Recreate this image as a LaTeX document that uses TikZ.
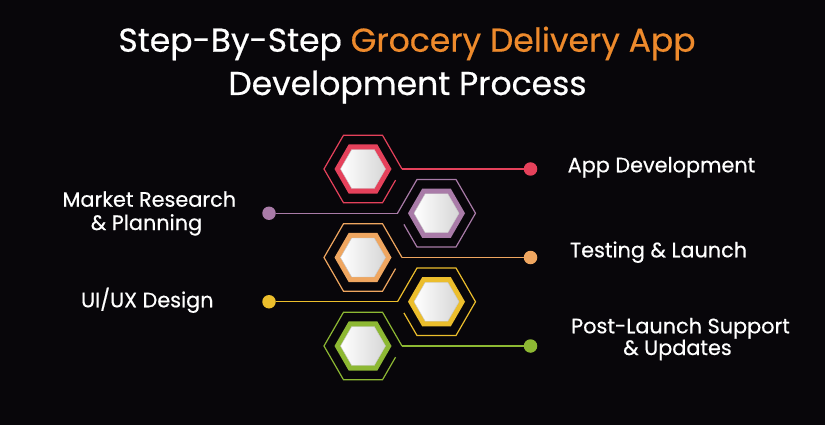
\documentclass[tikz,border=0pt]{standalone}
\usepackage{fontspec}
\setmainfont{Poppins}
\newfontfamily\popmed{Poppins}[FakeBold=0.5]
\usetikzlibrary{shapes.geometric,calc}
\definecolor{bg}{HTML}{08060A}
\definecolor{tOrange}{HTML}{EE8A2C}
\definecolor{cRed}{HTML}{E5415B}
\definecolor{cPurple}{HTML}{A97BA8}
\definecolor{cOrange}{HTML}{EFA660}
\definecolor{cYellow}{HTML}{ECBE2C}
\definecolor{cGreen}{HTML}{8DB833}
\begin{document}
\begin{tikzpicture}[x=1pt,y=-1pt,
  outerhex/.style={regular polygon, regular polygon sides=6, minimum size=78pt, inner sep=0pt, outer sep=0pt},
  ringhex/.style={regular polygon, regular polygon sides=6, minimum size=57pt, inner sep=0pt, outer sep=0pt, fill=#1},
  corehex/.style={regular polygon, regular polygon sides=6, minimum size=45pt, inner sep=0pt, outer sep=0pt, left color=white, right color=black!16, draw=black!22, line width=0.4pt},
  hexline/.style={draw=#1, line width=1.2pt, line join=miter},
  dot/.style={circle, fill=#1, minimum size=13.5pt, inner sep=0pt, outer sep=0pt},
  link/.style={draw=#1, line width=1.4pt},
  title/.style={text=white, font=\popmed\fontsize{33}{38}\selectfont, anchor=base},
  label/.style={text=white, font=\popmed\fontsize{20.8}{24}\selectfont, anchor=base}
]
% background
\fill[bg] (0,0) rectangle (825,425);
\useasboundingbox (0,0) rectangle (825,425);

% title
\node[title] (t1) at (407,51.7) {Step-By-Step {\color{tOrange}Grocery Delivery App}};
\node[title] (t2) at (407.5,95) {Development Process};

% hexagon frames (invisible anchors)
\node[outerhex] (o1) at (363,169) {};
\node[outerhex] (o2) at (436.5,213.25) {};
\node[outerhex] (o3) at (363,257.5) {};
\node[outerhex] (o4) at (436.5,301.75) {};
\node[outerhex] (o5) at (363,346) {};

% dots
\node[dot=cRed] (d1) at (530.5,169) {};
\node[dot=cPurple] (d2) at (269,213.25) {};
\node[dot=cOrange] (d3) at (530.5,257.5) {};
\node[dot=cYellow] (d4) at (269,301.75) {};
\node[dot=cGreen] (d5) at (530.5,346) {};

% broken outer outlines
\draw[hexline=cRed] ($(o1.0)!0.33!(o1.300)$) -- (o1.300) -- (o1.240) -- (o1.180) -- (o1.120) -- (o1.60) -- (o1.0);
\draw[hexline=cPurple] ($(o2.180)!0.33!(o2.240)$) -- (o2.240) -- (o2.300) -- (o2.0) -- (o2.60) -- (o2.120) -- (o2.180);
\draw[hexline=cOrange] ($(o3.0)!0.33!(o3.300)$) -- (o3.300) -- (o3.240) -- (o3.180) -- (o3.120) -- (o3.60) -- (o3.0);
\draw[hexline=cYellow] ($(o4.180)!0.33!(o4.240)$) -- (o4.240) -- (o4.300) -- (o4.0) -- (o4.60) -- (o4.120) -- (o4.180);
\draw[hexline=cGreen] ($(o5.0)!0.33!(o5.300)$) -- (o5.300) -- (o5.240) -- (o5.180) -- (o5.120) -- (o5.60) -- (o5.0);

% connectors
\draw[link=cRed] (o1.0) -- (d1);
\draw[link=cPurple] (d2) -- (o2.180);
\draw[link=cOrange] (o3.0) -- (d3);
\draw[link=cYellow] (d4) -- (o4.180);
\draw[link=cGreen] (o5.0) -- (d5);

% coloured rings and white cores
\node[ringhex=cRed] (r1) at (o1.center) {};
\node[ringhex=cPurple] (r2) at (o2.center) {};
\node[ringhex=cOrange] (r3) at (o3.center) {};
\node[ringhex=cYellow] (r4) at (o4.center) {};
\node[ringhex=cGreen] (r5) at (o5.center) {};
\node[corehex] (c1) at (o1.center) {};
\node[corehex] (c2) at (o2.center) {};
\node[corehex] (c3) at (o3.center) {};
\node[corehex] (c4) at (o4.center) {};
\node[corehex] (c5) at (o5.center) {};

% labels
\node[label] (l1) at (661.5,172.3) {App Development};
\node[label] (l2a) at (149.3,206.7) {Market Research};
\node[label] (l2b) at (146.5,230) {\& Planning};
\node[label] (l3) at (658.5,257.3) {Testing \& Launch};
\node[label] (l4) at (147.3,307.3) {UI/UX Design};
\node[label] (l5a) at (680.5,333.3) {Post-Launch Support};
\node[label] (l5b) at (677.5,355) {\& Updates};
\end{tikzpicture}
\end{document}
